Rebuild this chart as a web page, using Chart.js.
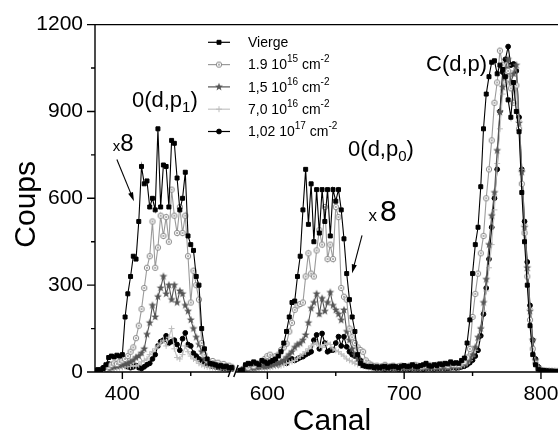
<!DOCTYPE html>
<html>
<head>
<meta charset="utf-8">
<script src="https://cdn.jsdelivr.net/npm/chart.js@4.4.0/dist/chart.umd.min.js"></script>
<style>
  html, body { margin: 0; padding: 0; overflow: hidden; background: #fff; }
  #wrap { width: 580px; height: 437px; }
</style>
</head>
<body>
<div id="wrap"><canvas id="chart" width="580" height="437"></canvas></div>
<script>
// channels (x), split by the axis break 480 // 580
const channelsLeft = [380,382,384,386,388,390,392,394,396,398,400,402,404,406,408,410,412,414,416,418,
  420,422,424,426,428,430,432,434,436,438,440,442,444,446,448,450,452,454,456,458,
  460,462,464,466,468,470,472,474,476,478,480];
const channelsRight = [580,582,584,586,588,590,592,594,596,598,
  600,602,604,606,608,610,612,614,616,618,
  620,622,624,626,628,630,632,634,636,638,
  640,642,644,646,648,650,652,654,656,658,
  660,662,664,666,668,670,672,674,676,678,
  680,682,684,686,688,690,692,694,696,698,
  700,702,704,706,708,710,712,714,716,718,
  720,722,724,726,728,730,732,734,736,738,
  740,742,744,746,748,750,752,754,756,758,
  760,762,764,766,768,770,772,774,776,778,
  780,782,784,786,788,790,792,794,796,798,
  800,802,804,806,808,810,812,814,816,818,
  820];

// counts (left peaks are the x8 parts)
const viergeLeft = [5,8,6,12,25,50,55,52,58,55,
  60,190,270,330,400,390,520,710,650,660,
  570,600,560,840,570,715,710,570,800,790,
  670,560,600,690,470,440,420,330,300,150,
  80,45,30,28,25,20,22,18,20,15,
  15];
const viergeRight = [5,8,25,30,28,35,30,25,40,35,
  30,35,40,45,55,70,100,140,190,240,
  245,330,400,560,700,510,650,450,630,480,
  630,520,630,470,630,590,630,560,460,340,
  250,190,140,60,30,22,20,18,20,15,
  18,15,18,20,15,18,20,18,15,20,
  22,18,20,25,20,18,22,25,30,22,
  20,25,22,28,25,30,28,35,30,32,
  30,40,48,100,180,340,440,500,640,840,
  960,1020,1070,1075,1030,1060,1045,1020,940,880,
  1000,900,830,620,450,300,160,60,25,10,
  6,5,4,3,3,2,2,2,1,1,
  1];

const dose1Left = [3,5,4,6,10,18,25,30,28,35,
  40,45,55,70,85,117,160,217,290,360,
  400,520,360,430,540,470,535,450,630,540,
  480,570,480,540,400,240,350,300,250,100,
  60,40,35,38,30,32,25,28,20,22,
  18];
const dose1Right = [5,10,20,15,25,20,30,25,35,45,
  55,60,50,55,60,76,85,98,140,170,
  215,230,235,240,330,410,340,330,420,490,
  440,570,390,440,390,570,535,290,260,250,
  150,120,100,85,76,70,40,30,25,20,
  22,18,20,25,18,20,22,18,20,22,
  20,18,22,20,25,22,18,20,22,25,
  22,20,25,22,28,25,22,28,25,25,
  25,30,35,50,80,190,270,340,410,470,
  600,700,800,930,1000,1110,1060,1000,1040,980,
  930,990,840,650,480,330,180,80,30,12,
  6,5,4,3,2,2,2,1,1,1,
  1];

const dose2Left = [2,3,4,5,8,12,15,18,20,22,
  25,28,30,35,40,50,55,65,80,130,
  170,230,190,260,290,330,270,300,250,300,
  240,280,270,230,210,180,150,120,95,70,
  45,35,28,25,22,20,18,15,14,12,
  12];
const dose2Right = [4,6,10,12,15,14,16,18,20,18,
  20,22,25,28,30,35,40,50,60,70,
  85,95,99,110,128,170,220,240,270,200,
  254,210,240,275,230,214,200,179,214,140,
  110,80,60,45,35,28,22,20,18,16,
  15,14,16,15,14,15,16,14,15,16,
  15,16,14,15,16,15,14,16,18,15,
  16,15,18,16,15,18,16,18,20,22,
  20,25,28,35,45,60,85,120,150,240,
  320,440,540,620,765,898,984,1050,1080,1000,
  1030,1060,860,690,500,360,210,110,40,15,
  6,4,3,3,2,2,1,1,1,1,
  1];

const dose3Left = [2,3,3,5,6,8,10,12,14,15,
  16,18,18,20,22,20,25,35,40,45,
  60,70,80,90,100,110,90,120,150,80,
  50,45,60,90,70,55,45,40,30,25,
  20,18,16,15,14,12,12,10,10,9,
  8];
const dose3Right = [3,5,8,10,12,10,12,14,15,14,
  15,16,18,20,20,22,25,30,32,36,
  40,48,55,62,70,80,90,95,100,90,
  85,95,100,95,80,75,70,62,55,45,
  40,35,30,26,22,20,18,16,15,14,
  13,12,14,13,12,13,12,14,13,12,
  13,12,14,13,12,14,13,15,14,13,
  14,13,15,14,13,15,16,15,16,18,
  18,22,25,30,40,55,75,110,150,210,
  280,360,440,560,720,840,960,1040,1060,1020,
  1040,1050,870,700,510,350,220,110,40,15,
  5,4,3,2,2,1,1,1,1,1,
  1];

const dose4Left = [3,5,8,15,20,28,25,20,25,30,
  28,22,18,15,18,22,15,12,18,25,
  30,45,60,90,105,110,125,100,105,110,
  95,75,115,135,95,90,65,55,45,40,
  30,25,22,20,18,16,14,12,12,10,
  10];
const dose4Right = [5,10,15,20,18,15,20,18,25,22,
  20,25,30,28,25,30,35,30,40,45,
  40,45,50,53,60,65,70,110,128,80,
  133,100,70,75,76,100,122,90,122,87,
  70,60,55,53,40,35,28,22,18,15,
  12,14,12,10,12,11,13,12,10,12,
  11,12,10,12,13,11,12,10,12,13,
  12,11,13,12,14,12,13,14,15,14,
  15,18,20,25,32,41,55,75,125,200,
  290,390,500,600,700,900,1036,1080,1124,1060,
  1064,1040,880,700,520,380,230,110,45,18,
  6,4,3,2,2,1,1,1,1,1,
  1];

const seriesLabels = ['Vierge', '1.9 10^{15} cm^{-2}', '1,5 10^{16} cm^{-2}', '7,0 10^{16} cm^{-2}', '1,02 10^{17} cm^{-2}'];
const xTickChannels = [400, 600, 700, 800];
const xTickLabels = ['400', '600', '700', '800'];
const xMinorChannels = [450, 650, 750];
const yTickValues = [0, 300, 600, 900, 1200];
const yMinorValues = [150, 450, 750, 1050];

// axis break: channels above breakFrom are shifted left by breakShift
const breakFrom = 480;
const breakShift = 94;
function axisPos(ch) { return ch > breakFrom ? ch - breakShift : ch; }

const fontFamily = "'Liberation Sans', Arial, sans-serif";
Chart.defaults.font.family = fontFamily;
Chart.defaults.color = '#000';

function marker(size, draw) {
  const c = document.createElement('canvas');
  c.width = size; c.height = size;
  draw(c.getContext('2d'), size / 2);
  return c;
}
const ringDot = marker(8, (g, m) => {
  g.strokeStyle = '#8a8a8a'; g.lineWidth = 1; g.fillStyle = '#fff';
  g.beginPath(); g.arc(m, m, 2.7, 0, Math.PI * 2); g.fill(); g.stroke();
  g.fillStyle = '#8a8a8a';
  g.beginPath(); g.arc(m, m, 0.9, 0, Math.PI * 2); g.fill();
});
const starMark = marker(10, (g, m) => {
  g.fillStyle = '#555';
  g.beginPath();
  for (let k = 0; k < 10; k++) {
    const r = k % 2 ? 1.7 : 4.2, t = -Math.PI / 2 + k * Math.PI / 5;
    g.lineTo(m + r * Math.cos(t), m + r * Math.sin(t));
  }
  g.closePath(); g.fill();
});

function toPoints(left, right) {
  const pts = channelsLeft.map((c, i) => ({x: axisPos(c), y: left[i]}));
  pts.push({x: breakFrom + 2, y: null});
  channelsRight.forEach((c, i) => pts.push({x: axisPos(c), y: right[i]}));
  return pts;
}

const styles = [
  {line: '#000', pointStyle: 'rect', radius: 2.8, fill: '#000', stroke: '#000'},
  {line: '#9a9a9a', pointStyle: ringDot, radius: 3, fill: '#fff', stroke: '#8a8a8a'},
  {line: '#555', pointStyle: starMark, radius: 3, fill: '#555', stroke: '#555'},
  {line: '#c4c4c4', pointStyle: 'cross', radius: 3, fill: '#c4c4c4', stroke: '#bdbdbd'},
  {line: '#000', pointStyle: 'circle', radius: 2.4, fill: '#000', stroke: '#000'}
];
const seriesData = [
  [viergeLeft, viergeRight], [dose1Left, dose1Right], [dose2Left, dose2Right],
  [dose3Left, dose3Right], [dose4Left, dose4Right]
];

const datasets = seriesData.map((d, i) => ({
  label: seriesLabels[i],
  data: toPoints(d[0], d[1]),
  borderColor: styles[i].line,
  borderWidth: 1.1,
  pointStyle: styles[i].pointStyle,
  pointRadius: styles[i].radius,
  pointBackgroundColor: styles[i].fill,
  pointBorderColor: styles[i].stroke,
  pointBorderWidth: 1,
  tension: 0,
  spanGaps: false
}));

// text notes placed in data units (channel, counts)
const notes = [
  {ch: 407, v: 914, parts: [{t: '0(d,p', s: 22}, {t: '1', s: 15, dy: 5}, {t: ')', s: 22}]},
  {ch: 393, v: 765, parts: [{t: 'x', s: 15}, {t: '8', s: 24}]},
  {ch: 659, v: 745, parts: [{t: '0(d,p', s: 22}, {t: '0', s: 15, dy: 5}, {t: ')', s: 22}]},
  {ch: 674, v: 520, parts: [{t: 'x', s: 17, gap: 3}, {t: '8', s: 30}]},
  {ch: 716, v: 1038, parts: [{t: 'C(d,p)', s: 22}]}
];
const arrows = [
  {from: [396, 734], to: [408.5, 590]},
  {from: [669.2, 472], to: [661.9, 341]}
];

function drawRich(ctx, parts, x, y) {
  let cx = x;
  parts.forEach(p => {
    ctx.font = p.s + 'px ' + fontFamily;
    ctx.fillText(p.t, cx, y + (p.dy || 0));
    cx += ctx.measureText(p.t).width + (p.gap || 0);
  });
}

const decorations = {
  id: 'decorations',
  afterDraw(chart) {
    const {ctx, chartArea: a, scales: {x, y}} = chart;
    const px = ch => x.getPixelForValue(axisPos(ch));
    ctx.save();
    ctx.strokeStyle = '#000';
    ctx.fillStyle = '#000';
    ctx.lineWidth = 1.4;

    // frame with the broken bottom axis
    const b = x.getPixelForValue(breakFrom + 1);
    const c1 = b - 2.8, c2 = b + 2.8;
    ctx.beginPath();
    ctx.moveTo(a.right, a.top); ctx.lineTo(a.left, a.top); ctx.lineTo(a.left, a.bottom); ctx.lineTo(c1, a.bottom);
    ctx.moveTo(c2, a.bottom); ctx.lineTo(a.right, a.bottom); ctx.lineTo(a.right, a.top);
    [c1, c2].forEach(c => { ctx.moveTo(c - 2.2, a.bottom + 5); ctx.lineTo(c + 2.2, a.bottom - 7); });
    // ticks
    yTickValues.forEach(v => { const p = y.getPixelForValue(v); ctx.moveTo(a.left - 8, p); ctx.lineTo(a.left, p); });
    yMinorValues.forEach(v => { const p = y.getPixelForValue(v); ctx.moveTo(a.left - 4, p); ctx.lineTo(a.left, p); });
    xTickChannels.forEach(c => { const p = px(c); ctx.moveTo(p, a.bottom); ctx.lineTo(p, a.bottom + 7); });
    xMinorChannels.forEach(c => { const p = px(c); ctx.moveTo(p, a.bottom); ctx.lineTo(p, a.bottom + 4); });
    ctx.stroke();

    // y title
    ctx.save();
    ctx.translate(26.3, (a.top + a.bottom) / 2 + 6);
    ctx.rotate(-Math.PI / 2);
    ctx.font = '30px ' + fontFamily;
    ctx.textAlign = 'center';
    ctx.textBaseline = 'middle';
    ctx.fillText('Coups', 0, 0);
    ctx.restore();

    // notes and arrows
    ctx.textAlign = 'left';
    ctx.textBaseline = 'alphabetic';
    notes.forEach(n => drawRich(ctx, n.parts, px(n.ch), y.getPixelForValue(n.v)));
    ctx.lineWidth = 1.1;
    arrows.forEach(ar => {
      const x0 = px(ar.from[0]), y0 = y.getPixelForValue(ar.from[1]);
      const x1 = px(ar.to[0]), y1 = y.getPixelForValue(ar.to[1]);
      const ang = Math.atan2(y1 - y0, x1 - x0);
      ctx.beginPath(); ctx.moveTo(x0, y0);
      ctx.lineTo(x1 - 6 * Math.cos(ang), y1 - 6 * Math.sin(ang)); ctx.stroke();
      ctx.beginPath();
      ctx.moveTo(x1, y1);
      ctx.lineTo(x1 - 9 * Math.cos(ang) + 2.6 * Math.sin(ang), y1 - 9 * Math.sin(ang) - 2.6 * Math.cos(ang));
      ctx.lineTo(x1 - 9 * Math.cos(ang) - 2.6 * Math.sin(ang), y1 - 9 * Math.sin(ang) + 2.6 * Math.cos(ang));
      ctx.closePath(); ctx.fill();
    });

    // legend
    chart.data.datasets.forEach((ds, i) => {
      const ly = a.top + 17.7 + 22.3 * i;
      const lx = a.left + 113;
      ctx.strokeStyle = ds.borderColor;
      ctx.lineWidth = 1.2;
      ctx.beginPath(); ctx.moveTo(lx, ly); ctx.lineTo(lx + 22, ly); ctx.stroke();
      ctx.fillStyle = ds.pointBackgroundColor;
      ctx.strokeStyle = ds.pointBorderColor;
      ctx.lineWidth = 1;
      Chart.helpers.drawPoint(ctx, {pointStyle: ds.pointStyle, radius: ds.pointRadius, rotation: 0, borderWidth: 1}, lx + 11, ly);
      ctx.fillStyle = '#000';
      ctx.textBaseline = 'middle';
      const parts = [];
      ds.label.split(/\^\{([^}]*)\}/).forEach((t, k) => {
        if (t) parts.push(k % 2 ? {t: t, s: 10, dy: -6} : {t: t, s: 14});
      });
      drawRich(ctx, parts, lx + 40, ly + 1);
    });
    ctx.restore();
  }
};

new Chart(document.getElementById('chart'), {
  type: 'line',
  data: {datasets: datasets},
  options: {
    responsive: false,
    animation: false,
    devicePixelRatio: 1,
    layout: {padding: {left: 0, right: 11, top: 24, bottom: 0}},
    plugins: {legend: {display: false}, tooltip: {enabled: false}},
    scales: {
      x: {
        type: 'linear',
        min: axisPos(380),
        max: axisPos(820.5),
        grid: {display: false, drawTicks: false},
        border: {display: false},
        afterBuildTicks: s => { s.ticks = xTickChannels.map(c => ({value: axisPos(c)})); },
        afterFit: s => { s.height = 65; },
        ticks: {
          autoSkip: false, maxRotation: 0, padding: 10,
          font: {size: 21, lineHeight: 1.2}, color: '#000',
          callback: (v, i) => xTickLabels[i]
        },
        title: {display: true, text: 'Canal', font: {size: 30, lineHeight: 1}, padding: {top: 0, bottom: 0}, color: '#000'}
      },
      y: {
        min: 0,
        max: 1200,
        grid: {display: false, drawTicks: false},
        border: {display: false},
        afterBuildTicks: s => { s.ticks = yTickValues.map(v => ({value: v})); },
        afterFit: s => { s.width = 95; },
        ticks: {padding: 12, font: {size: 21}, color: '#000', callback: v => String(v)}
      }
    }
  },
  plugins: [decorations]
});
</script>
</body>
</html>
